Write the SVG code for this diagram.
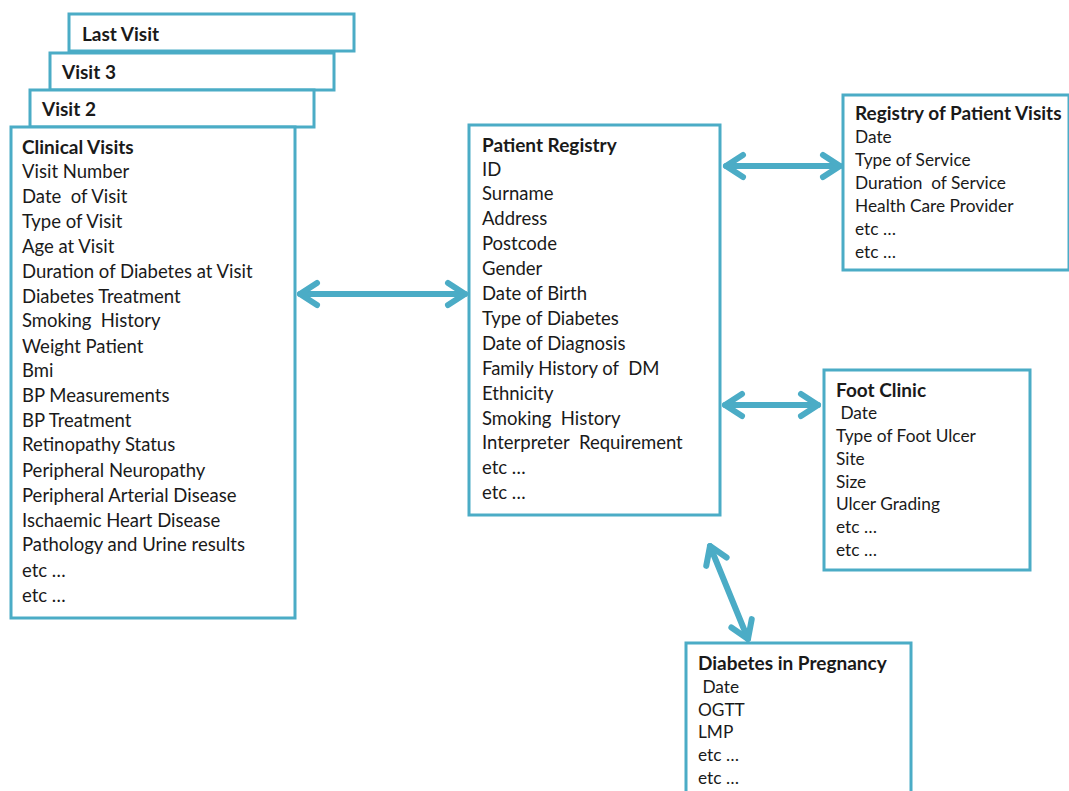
<svg xmlns="http://www.w3.org/2000/svg" width="1069" height="791" viewBox="0 0 1069 791">
<style>
.box{fill:#fff;stroke:#4bacc6;stroke-width:3}
text{font-family:Lato,"Open Sans","Liberation Sans",sans-serif;fill:#1a1a1a;dominant-baseline:central;white-space:pre}
.a{font-size:18.5px}
.b{font-size:17.3px}
.a .t,.a.t{font-size:19px;font-weight:bold}
.b .t{font-size:19px;font-weight:bold}
.c{fill:none;stroke:#4bacc6;stroke-width:6;stroke-linecap:round;stroke-linejoin:round}
</style>
<defs>
<marker id="h" markerUnits="userSpaceOnUse" viewBox="-24 -16 30 32" refX="0" refY="0" markerWidth="30" markerHeight="32" orient="auto-start-reverse">
<path d="M-17 -11 L0 0 L-17 11" fill="none" stroke="#4bacc6" stroke-width="6" stroke-linecap="round" stroke-linejoin="round"/>
</marker>
</defs>
<rect width="1069" height="791" fill="#fff"/>
<g id="last-visit"><rect class="box" x="69" y="14" width="285" height="37"/><text class="a t" x="82" y="33">Last Visit</text></g>
<g id="visit-3"><rect class="box" x="50" y="53" width="284" height="37"/><text class="a t" x="62" y="71">Visit 3</text></g>
<g id="visit-2"><rect class="box" x="30" y="90" width="284" height="37"/><text class="a t" x="42" y="108">Visit 2</text></g>
<g id="clinical-visits"><rect class="box" x="11" y="127" width="284" height="491"/>
<g class="a">
<text class="t" x="22" y="146">Clinical Visits</text>
<text x="22" y="171">Visit Number</text>
<text x="22" y="196">Date  of Visit</text>
<text x="22" y="221">Type of Visit</text>
<text x="22" y="246">Age at Visit</text>
<text x="22" y="271">Duration of Diabetes at Visit</text>
<text x="22" y="296">Diabetes Treatment</text>
<text x="22" y="320">Smoking  History</text>
<text x="22" y="346">Weight Patient</text>
<text x="22" y="370">Bmi</text>
<text x="22" y="395">BP Measurements</text>
<text x="22" y="420">BP Treatment</text>
<text x="22" y="444">Retinopathy Status</text>
<text x="22" y="470">Peripheral Neuropathy</text>
<text x="22" y="495">Peripheral Arterial Disease</text>
<text x="22" y="520">Ischaemic Heart Disease</text>
<text x="22" y="544">Pathology and Urine results</text>
<text x="22" y="570">etc …</text>
<text x="22" y="595">etc …</text>
</g></g>
<g id="patient-registry"><rect class="box" x="469" y="125" width="251" height="390"/>
<g class="a">
<text class="t" x="482" y="144">Patient Registry</text>
<text x="482" y="169">ID</text>
<text x="482" y="193">Surname</text>
<text x="482" y="218">Address</text>
<text x="482" y="243">Postcode</text>
<text x="482" y="268">Gender</text>
<text x="482" y="293">Date of Birth</text>
<text x="482" y="318">Type of Diabetes</text>
<text x="482" y="343">Date of Diagnosis</text>
<text x="482" y="368">Family History of  DM</text>
<text x="482" y="393">Ethnicity</text>
<text x="482" y="418">Smoking  History</text>
<text x="482" y="442">Interpreter  Requirement</text>
<text x="482" y="467">etc …</text>
<text x="482" y="492">etc …</text>
</g></g>
<g id="registry-visits"><rect class="box" x="843" y="95" width="226" height="175"/>
<g class="b">
<text class="t" x="855" y="112">Registry of Patient Visits</text>
<text x="855" y="136">Date</text>
<text x="855" y="159">Type of Service</text>
<text x="855" y="182">Duration  of Service</text>
<text x="855" y="205">Health Care Provider</text>
<text x="855" y="228">etc …</text>
<text x="855" y="251">etc …</text>
</g></g>
<g id="foot-clinic"><rect class="box" x="824" y="370" width="206" height="200"/>
<g class="b">
<text class="t" x="836" y="389">Foot Clinic</text>
<text x="836" y="412"> Date</text>
<text x="836" y="435">Type of Foot Ulcer</text>
<text x="836" y="458">Site</text>
<text x="836" y="481">Size</text>
<text x="836" y="503">Ulcer Grading</text>
<text x="836" y="526">etc …</text>
<text x="836" y="549">etc …</text>
</g></g>
<g id="diabetes-pregnancy"><rect class="box" x="686" y="643" width="225" height="160"/>
<g class="b">
<text class="t" x="698" y="662">Diabetes in Pregnancy</text>
<text x="698" y="686"> Date</text>
<text x="698" y="709">OGTT</text>
<text x="698" y="731">LMP</text>
<text x="698" y="754">etc …</text>
<text x="698" y="777">etc …</text>
</g></g>
<g id="connectors">
<line class="c" x1="300" y1="294" x2="465" y2="294" marker-start="url(#h)" marker-end="url(#h)"/>
<line class="c" x1="726" y1="166" x2="840" y2="166" marker-start="url(#h)" marker-end="url(#h)"/>
<line class="c" x1="725" y1="405" x2="818" y2="405" marker-start="url(#h)" marker-end="url(#h)"/>
<line class="c" x1="710" y1="546" x2="748" y2="639" marker-start="url(#h)" marker-end="url(#h)"/>
</g>
</svg>
